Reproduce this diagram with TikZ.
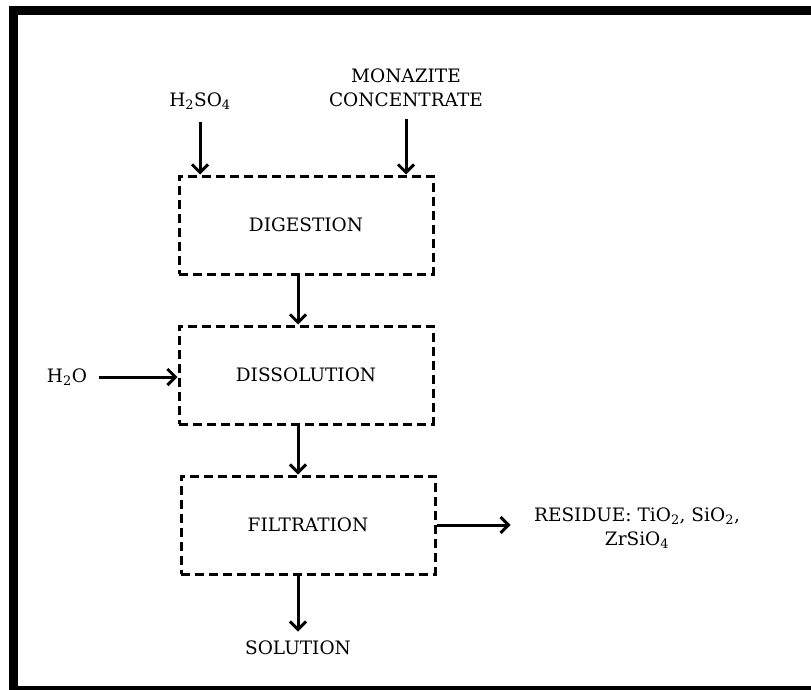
\documentclass[tikz,border=0pt]{standalone}
\usepackage{fontspec}
\setmainfont{DejaVu Serif}
\usetikzlibrary{arrows.meta,positioning}
\tikzset{
    -{Straight Barb[length=8pt,width=16pt]},x=1pt,y=-1pt,
    box/.style ={rectangle, draw, dash pattern=on 9pt off 5pt, minimum width=254pt, minimum height=98pt, font=\fontsize{18.5}{24}\selectfont},
    lbl/.style = {inner sep=2pt, align=center, font=\fontsize{18.5}{24}\selectfont}
}
\begin{document}
\begin{tikzpicture}[line width=3pt]
    \useasboundingbox (0,0) rectangle (811,690);
    \draw[line width=9pt] (13,10.5) rectangle (840,690.5);
    \node[box] (1) at (306,225) {DIGESTION};
    \node[box] (2) [below = 49pt of 1] {DISSOLUTION};
    \node[box, xshift=2pt] (3) [below = 49pt of 2] {FILTRATION};
    \node[lbl] (4) at (200,101) {H\textsubscript{2}SO\textsubscript{4}};
    \node[lbl] (5) at (406,88) {MONAZITE\\CONCENTRATE};
    \node[lbl] (6) at (67,377) {H\textsubscript{2}O};
    \node[lbl] (7) at (637,528) {RESIDUE: TiO\textsubscript{2}, SiO\textsubscript{2},\\ZrSiO\textsubscript{4}};
    \node[lbl] (8) at (298,648) {SOLUTION};

    \path (4) edge[shorten <=9pt] (4 |- 1.north);
    \path (5) edge[shorten <=9pt] (5 |- 1.north);
    \path (1.south -| 8) edge (2.north -| 8);
    \path (6) edge[shorten <=8pt] (6 -| 2.west);
    \path (2.south -| 8) edge (3.north -| 8);
    \path (3.east) edge[shorten >=20pt] (3.east -| 7.west);
    \path (3.south -| 8) edge[shorten >=6pt] (8);

\end{tikzpicture}
\end{document}
